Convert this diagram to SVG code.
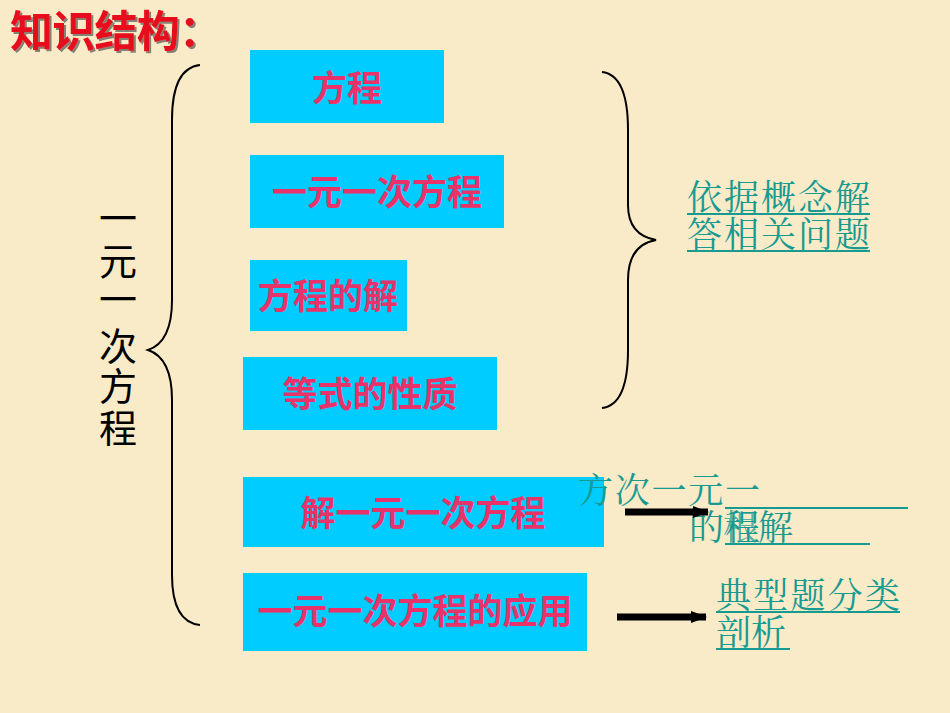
<svg xmlns="http://www.w3.org/2000/svg" width="950" height="713" viewBox="0 0 950 713">
<style>
.box{fill:#00CCFF}
.bt{font-family:"Liberation Sans","Noto Sans CJK SC",sans-serif;font-weight:bold;font-size:35px;fill:#E8336A;text-anchor:middle}
.tl{font-family:"Noto Serif CJK SC","Liberation Serif","Noto Sans CJK SC",serif;font-size:35px;fill:#199A90}
.ul{stroke:#199A90;stroke-width:2}
.br{fill:none;stroke:#000;stroke-width:2}
</style>
<defs>
<marker id="ah" markerWidth="16" markerHeight="14" refX="15" refY="7" orient="auto" markerUnits="userSpaceOnUse"><path d="M0,1 L16,7 L0,13 z" fill="#000"/></marker>
<filter id="sh" x="-5%" y="-5%" width="115%" height="120%"><feDropShadow dx="2" dy="2" stdDeviation="0.5" flood-color="#555" flood-opacity="0.7"/></filter>
</defs>
<rect width="950" height="713" fill="#FAEBC8"/>
<text x="10" y="47" filter="url(#sh)" font-family="Liberation Sans,Noto Sans CJK SC,sans-serif" font-weight="bold" font-size="43" fill="#E8101A" textLength="212">知识结构：</text>
<g id="vertical" font-family="Liberation Sans,Noto Sans CJK SC,sans-serif" font-size="38" fill="#000" text-anchor="middle">
<text x="118" y="232">一</text><text x="118" y="275">元</text><text x="118" y="313">一</text><text x="118" y="360">次</text><text x="118" y="400">方</text><text x="118" y="442">程</text>
</g>
<g id="n1"><rect class="box" x="250" y="50" width="194" height="73"/><text class="bt" x="347" y="101">方程</text></g>
<g id="n2"><rect class="box" x="250" y="155" width="254" height="73"/><text class="bt" x="377" y="205">一元一次方程</text></g>
<g id="n3"><rect class="box" x="250" y="260" width="157" height="71"/><text class="bt" x="328" y="309">方程的解</text></g>
<g id="n4"><rect class="box" x="243" y="357" width="254" height="73"/><text class="bt" x="370" y="407">等式的性质</text></g>
<g id="n5"><rect class="box" x="243" y="477" width="361" height="70"/><text class="bt" x="423" y="526">解一元一次方程</text></g>
<g id="n6"><rect class="box" x="243" y="573" width="344" height="78"/><text class="bt" x="415" y="624">一元一次方程的应用</text></g>
<g id="t1" class="tl"><text x="687" y="210" textLength="183">依据概念解</text><text x="687" y="247" textLength="183">答相关问题</text>
<line class="ul" x1="687" y1="214" x2="870" y2="214"/><line class="ul" x1="687" y1="251" x2="870" y2="251"/></g>
<g id="t2" class="tl"><text x="578" y="503" textLength="182">方次一元一</text><text x="689" y="540">的</text><text x="723" y="540" opacity="0.7">根</text><text x="725" y="540">程</text><text x="758" y="540">解</text>
<line class="ul" x1="725" y1="508" x2="908" y2="508"/><line class="ul" x1="725" y1="544" x2="870" y2="544"/></g>
<g id="t3" class="tl"><text x="716" y="608" textLength="184">典型题分类</text><text x="716" y="645">剖析</text>
<line class="ul" x1="716" y1="612" x2="900" y2="612"/><line class="ul" x1="716" y1="649" x2="790" y2="649"/></g>
<g id="connectors">
<path class="br" d="M200,65 Q172,68 172,120 L172,300 Q172,342 148,350 Q172,358 172,400 L172,575 Q172,622 200,625"/>
<path class="br" d="M602,72 Q628,75 628,130 L628,205 Q628,235 656,240 Q628,245 628,280 L628,350 Q628,405 602,408"/>
<line x1="625" y1="512" x2="708" y2="512" stroke="#000" stroke-width="7" marker-end="url(#ah)"/>
<line x1="617" y1="617" x2="706" y2="617" stroke="#000" stroke-width="7" marker-end="url(#ah)"/>
</g>
</svg>
